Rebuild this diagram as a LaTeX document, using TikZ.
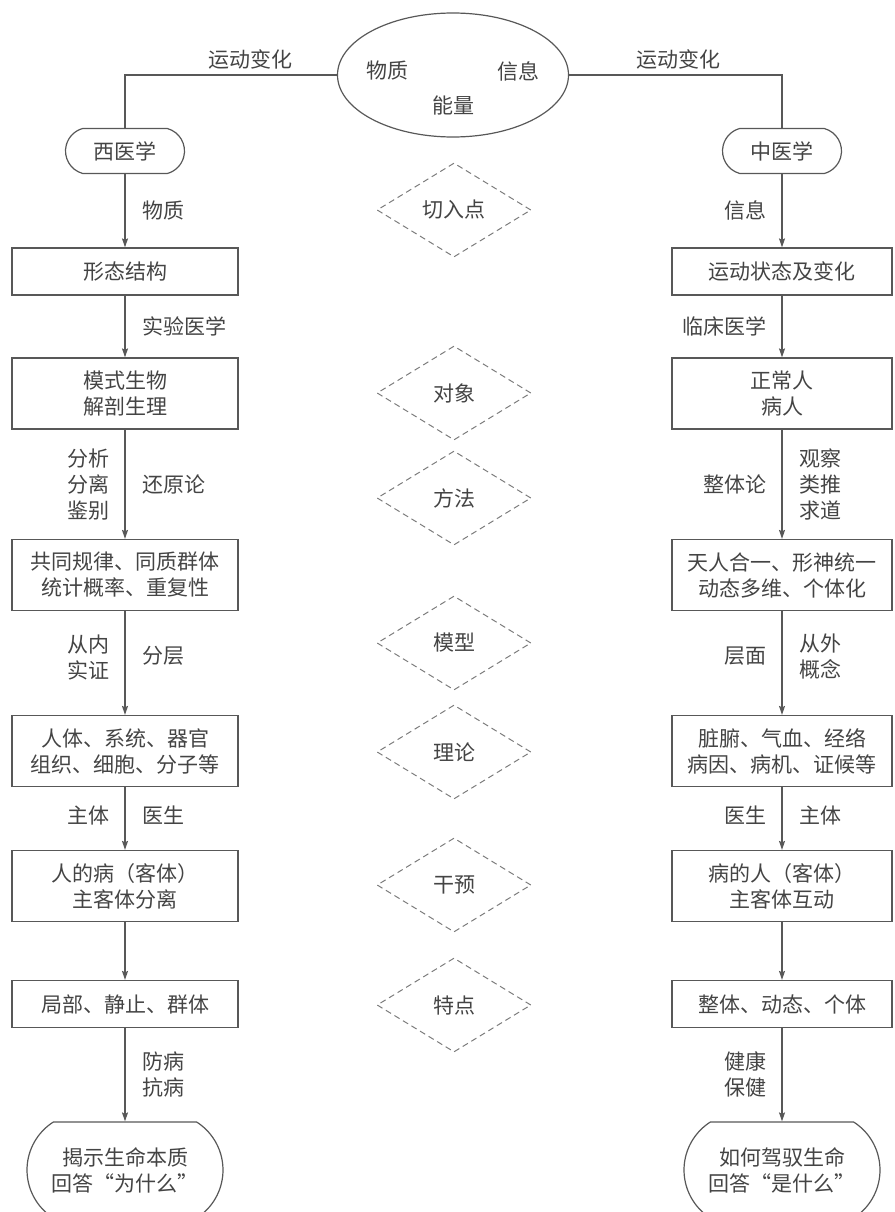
\documentclass[tikz,border=0pt]{standalone}
\usepackage{fontspec}
\setmainfont{Noto Sans CJK SC}
\usetikzlibrary{shapes.geometric,shapes.misc,arrows.meta}
\definecolor{ln}{HTML}{585858}
\definecolor{tx}{HTML}{444444}
\definecolor{dl}{HTML}{7C7C7C}
\begin{document}
\begin{tikzpicture}[x=1pt,y=-1pt,
  every node/.style={text=tx, font=\fontsize{21}{26}\selectfont},
  box/.style={draw=ln, line width=1.2pt, rectangle, inner sep=2pt, align=center},
  lbox/.style={box, minimum width=226pt},
  rbox/.style={box, minimum width=220pt},
  one/.style={minimum height=47pt},
  two/.style={minimum height=71pt},
  term/.style={draw=ln, line width=1.2pt, rounded rectangle, rounded rectangle arc length=150, minimum width=123pt, minimum height=45pt, inner sep=2pt},
  endterm/.style={draw=ln, line width=1.2pt, rounded rectangle, rounded rectangle arc length=115, minimum width=200pt, minimum height=96pt, inner sep=2pt, align=center},
  dia/.style={draw=dl, dash pattern=on 6pt off 4pt, line width=1pt, diamond, minimum width=154pt, minimum height=94pt, inner sep=0pt},
  conn/.style={draw=ln, line width=1.2pt},
  arr/.style={conn, -{Stealth[length=9pt,width=6pt,inset=1.5pt]}},
  lab/.style={inner sep=0pt, align=left},
  rl/.style={lab, right=17pt},
  ll/.style={lab, left=15pt}
]
\useasboundingbox (0,0) rectangle (894,1212);

% top ellipse
\node[draw=ln, line width=1.2pt, ellipse, minimum width=231pt, minimum height=124pt] (E) at (453,75) {};
\node (wz) at (387,71) {物质};
\node (xx) at (518,71) {信息};
\node (nl) at (453,105) {能量};
\node (ydl) at (250,59) {运动变化};
\node (ydr) at (678,59) {运动变化};

% terminals
\node[term] (xy) at (125,151) {西医学};
\node[term] (zy) at (782,151) {中医学};
\draw[conn] (E.west) -| (xy.north);
\draw[conn] (E.east) -| (zy.north);

% left column
\node[lbox,one] (L1) at (125,271.5) {形态结构};
\node[lbox,two] (L2) at (125,393.5) {模式生物\\解剖生理};
\node[lbox,two] (L3) at (125,575) {共同规律、同质群体\\统计概率、重复性};
\node[lbox,two] (L4) at (125,751) {人体、系统、器官\\组织、细胞、分子等};
\node[lbox,two] (L5) at (125,886) {人的病（客体）\\主客体分离};
\node[lbox,one] (L6) at (125,1004) {局部、静止、群体};
\node[endterm] (L7) at (125,1170) {揭示生命本质\\回答“为什么”};

% right column
\node[rbox,one] (R1) at (782,271.5) {运动状态及变化};
\node[rbox,two] (R2) at (782,393.5) {正常人\\病人};
\node[rbox,two] (R3) at (782,575) {天人合一、形神统一\\动态多维、个体化};
\node[rbox,two] (R4) at (782,751) {脏腑、气血、经络\\病因、病机、证候等};
\node[rbox,two] (R5) at (782,886) {病的人（客体）\\主客体互动};
\node[rbox,one] (R6) at (782,1004) {整体、动态、个体};
\node[endterm] (R7) at (782,1170) {如何驾驭生命\\回答“是什么”};

% middle diamonds
\node[dia] (D1) at (454,210) {切入点};
\node[dia] (D2) at (454,393) {对象};
\node[dia] (D3) at (454,498) {方法};
\node[dia] (D4) at (454,643) {模型};
\node[dia] (D5) at (454,752) {理论};
\node[dia] (D6) at (454,885) {干预};
\node[dia] (D7) at (454,1005) {特点};

% left arrows
\draw[arr] (xy.south) -- node[midway, rl] {物质} (L1.north);
\draw[arr] (L1.south) -- node[midway, rl] {实验医学} (L2.north);
\draw[arr] (L2.south) -- node[midway, ll] {分析\\分离\\鉴别} node[midway, rl] {还原论} (L3.north);
\draw[arr] (L3.south) -- node[midway, ll, yshift=6pt] {从内\\实证} node[midway, rl, yshift=7pt] {分层} (L4.north);
\draw[arr] (L4.south) -- node[midway, ll, yshift=3pt] {主体} node[midway, rl, yshift=3pt] {医生} (L5.north);
\draw[arr] (L5.south) -- (L6.north);
\draw[arr] (L6.south) -- node[midway, rl] {防病\\抗病} (L7.north);

% right arrows
\draw[arr] (zy.south) -- node[midway, ll] {信息} (R1.north);
\draw[arr] (R1.south) -- node[midway, ll] {临床医学} (R2.north);
\draw[arr] (R2.south) -- node[midway, ll] {整体论} node[midway, rl] {观察\\类推\\求道} (R3.north);
\draw[arr] (R3.south) -- node[midway, ll, yshift=7pt] {层面} node[midway, rl, yshift=6pt] {从外\\概念} (R4.north);
\draw[arr] (R4.south) -- node[midway, ll, yshift=3pt] {医生} node[midway, rl, yshift=3pt] {主体} (R5.north);
\draw[arr] (R5.south) -- (R6.north);
\draw[arr] (R6.south) -- node[midway, ll] {健康\\保健} (R7.north);
\end{tikzpicture}
\end{document}
